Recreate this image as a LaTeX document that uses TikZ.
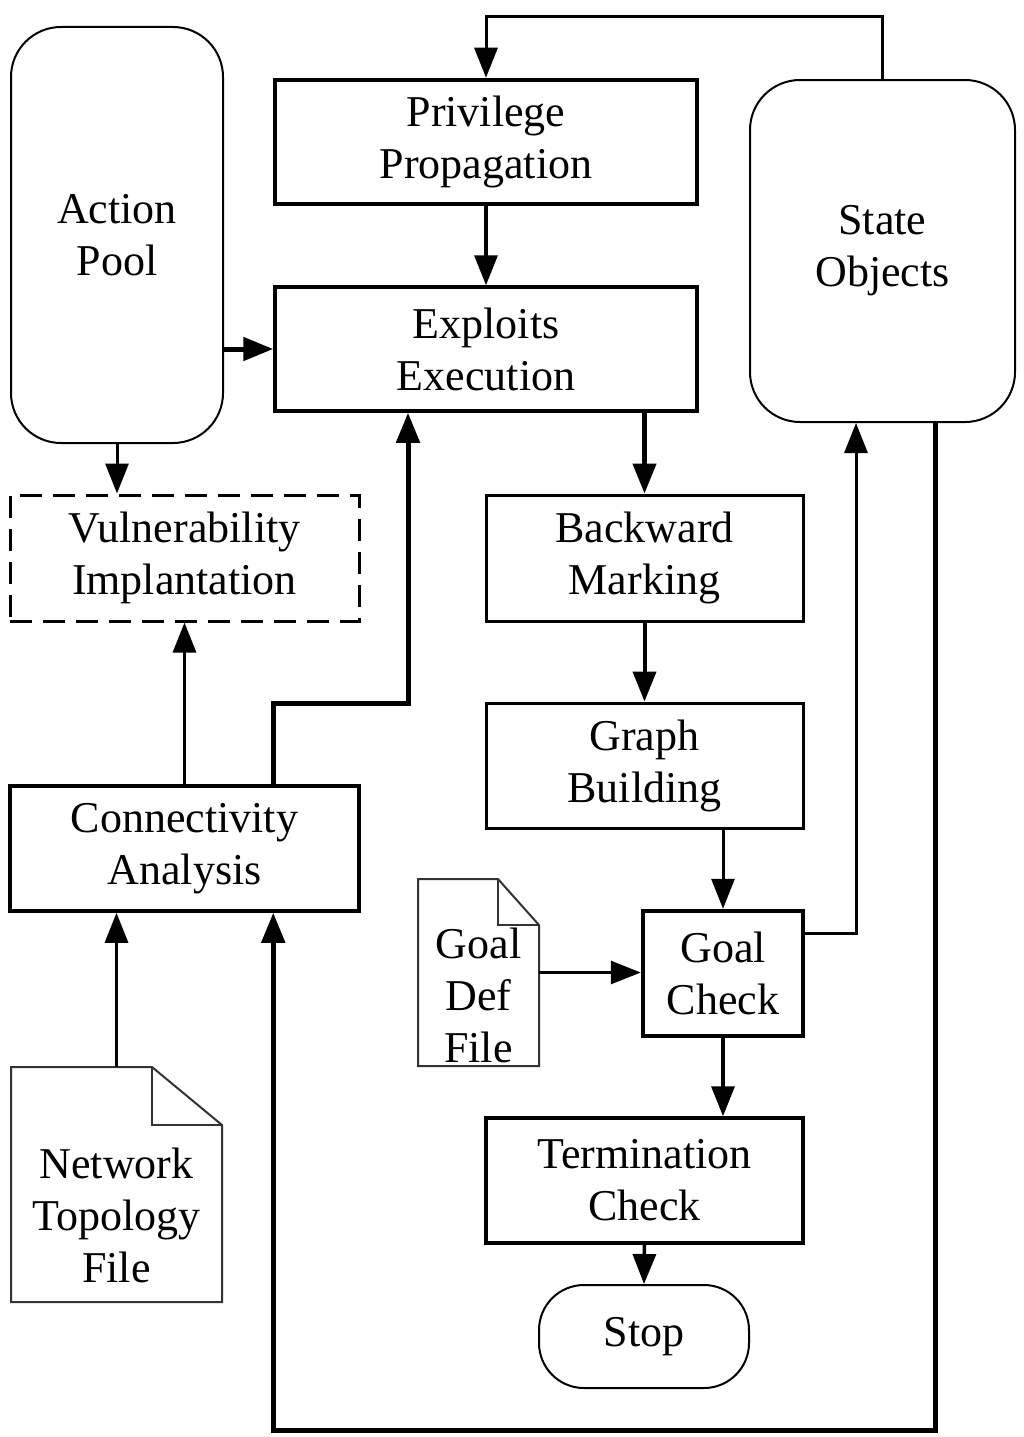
\documentclass[tikz,border=0pt]{standalone}
\usepackage{fontspec}
\setmainfont{Liberation Serif}
\usetikzlibrary{arrows.meta,calc}
\begin{document}
\begin{tikzpicture}[x=1pt,y=-1pt,
  txt/.style={font=\fontsize{44}{52}\selectfont, align=center, inner sep=0pt},
  box/.style={txt, draw, line width=3pt, minimum width=#1},
  box/.default=317pt,
  pool/.style={txt, draw, line width=2pt, rounded corners=50pt},
  docline/.style={draw=black!80, line width=2pt, line join=miter},
  conn/.style={line width=3pt, -{Triangle[length=30pt,width=23pt]}},
  thickconn/.style={line width=5pt, -{Triangle[length=30pt,width=23pt]}},
]
\useasboundingbox (0,0) rectangle (1024,1437);
% nodes
\node[pool, minimum width=212pt, minimum height=416pt] (ap) at (117,235) {Action\\Pool};
\node[box=422pt, minimum height=124pt, line width=4.5pt] (pp) at (486,142) {Privilege\\Propagation};
\node[box=422pt, minimum height=124pt, line width=3.5pt] (ee) at (486,349) {Exploits\\Execution};
\node[pool, minimum width=265pt, minimum height=342pt] (so) at (882.5,251) {State\\Objects};
\node[box=349pt, minimum height=126pt, dash pattern=on 22pt off 11pt] (vi) at (184.5,558) {Vulnerability\\Implantation};
\node[box, minimum height=126pt] (bm) at (644.5,558) {Backward\\Marking};
\node[box, minimum height=125pt] (gb) at (644.5,765.5) {Graph\\Building};
\node[box=349pt, minimum height=125pt, line width=3.5pt] (ca) at (184.5,848.5) {Connectivity\\Analysis};
\node[box=160pt, minimum height=125pt, line width=4.5pt] (gc) at (723,973.5) {Goal\\Check};
\node[box, minimum height=125pt, line width=3.5pt] (tc) at (644.5,1180.5) {Termination\\Check};
\node[txt, draw, line width=2pt, rounded corners=45pt, minimum width=210pt, minimum height=103pt] (st) at (644,1336.5) {Stop};
% document shapes
\draw[docline] (418,879) -- (498,879) -- (539,925) -- (539,1066) -- (418,1066) -- cycle;
\draw[docline] (498,879) -- (498,925) -- (539,925);
\node[inner sep=0pt, minimum width=121pt, minimum height=187pt] (gd) at (478.5,972.5) {};
\node[txt] (gdt) at (478.5,995) {Goal\\Def\\File};
\draw[docline] (11,1067) -- (152,1067) -- (222,1125) -- (222,1302) -- (11,1302) -- cycle;
\draw[docline] (152,1067) -- (152,1125) -- (222,1125);
\node[inner sep=0pt, minimum width=211pt, minimum height=235pt] (nt) at (116.5,1184.5) {};
\node[txt] (ntt) at (116.5,1215) {Network\\Topology\\File};
% helper coordinates
\coordinate (x408) at (408,0);
\coordinate (x856) at (856,0);
\coordinate (x935) at (935,0);
\coordinate (y17) at (0,17);
\coordinate (y703) at (0,703);
\coordinate (y1430) at (0,1430);
% connectors
\draw[conn] (so.north) -- (so.north |- y17) -| (pp.north);
\draw[conn, line width=3.5pt] (pp.south) -- (ee.north);
\draw[thickconn] (ee.west -| ap.east) -- (ee.west);
\draw[conn] (ap.south) -- (ap.south |- vi.north);
\draw[conn] (ca.north) -- (vi.south);
\draw[thickconn] (ee.west |- ca.north) -- (ee.west |- y703) -| (x408 |- ee.south);
\draw[conn, line width=4.5pt] (bm.north |- ee.south) -- (bm.north);
\draw[conn, line width=4pt] (bm.south) -- (gb.north);
\draw[conn] (gc.north |- gb.south) -- (gc.north);
\draw[conn] (gd.east) -- (gd.east -| gc.west);
\draw[conn] ($(gc.north east)+(0,25)$) -| (x856 |- so.south);
\draw[conn, line width=3.5pt] (gc.south) -- (gc.south |- tc.north);
\draw[conn, line width=3.5pt] (tc.south) -- (st.north);
\draw[thickconn] (x935 |- so.south) -- (x935 |- y1430) -| (ee.west |- ca.south);
\draw[conn] (nt.north) -- (nt.north |- ca.south);
\end{tikzpicture}
\end{document}
